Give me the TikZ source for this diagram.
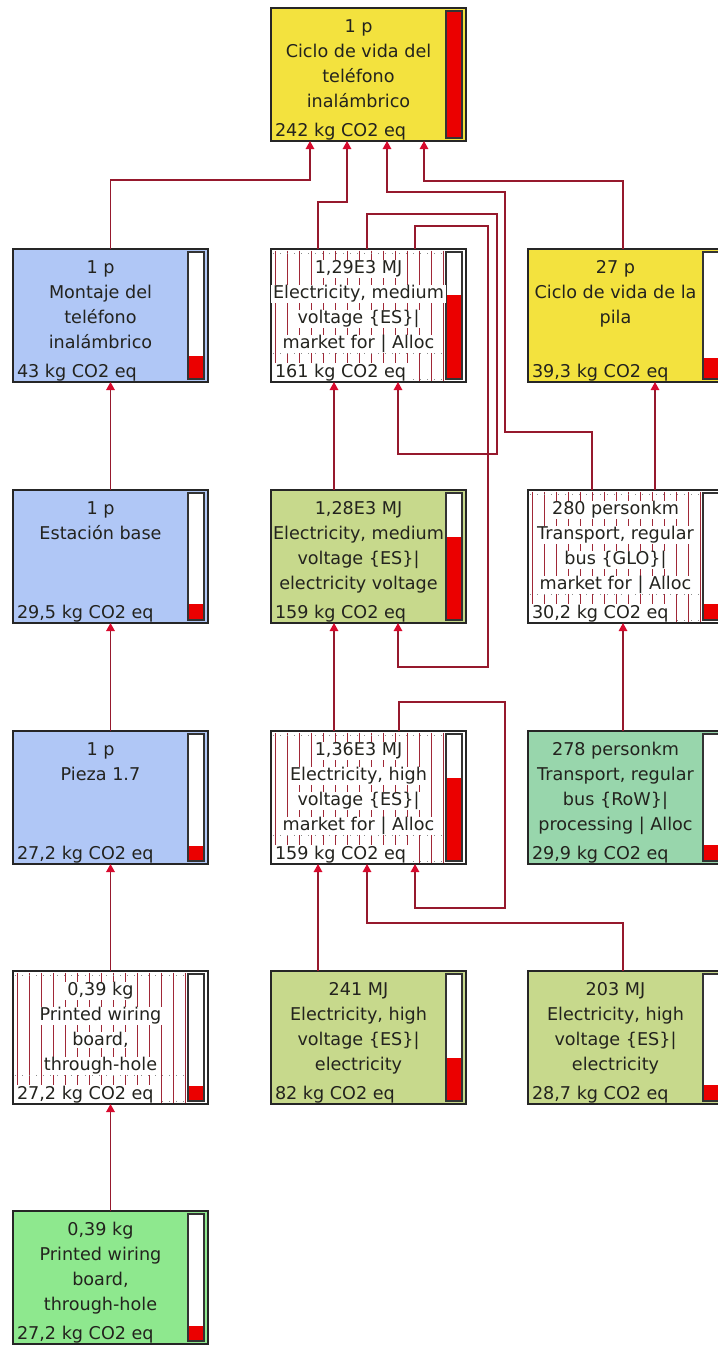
\documentclass[tikz,border=0pt]{standalone}
\usepackage{fontspec}
\setmainfont{DejaVu Sans}
\usetikzlibrary{calc,arrows.meta}
\definecolor{cyellow}{RGB}{243,226,62}
\definecolor{cblue}{RGB}{176,199,246}
\definecolor{colive}{RGB}{199,217,140}
\definecolor{cteal}{RGB}{152,214,172}
\definecolor{cgreen}{RGB}{142,232,142}
\definecolor{cline}{RGB}{150,25,45}
\definecolor{carrow}{RGB}{215,10,45}
\definecolor{chatch}{RGB}{160,40,55}
\definecolor{ctext}{RGB}{35,35,30}
\definecolor{cbar}{RGB}{235,0,0}
\tikzset{
 procbox/.style={draw=black!85, line width=1.3pt, minimum width=195pt, minimum height=133pt, inner sep=0pt, outer sep=0pt},
 txt/.style={font=\fontsize{17.6}{21}\selectfont, text=ctext, inner xsep=2pt, inner ysep=0.5pt, outer sep=0pt},
 htxt/.style={txt, fill=white},
 conn/.style={draw=cline, line width=1.3pt, -{Triangle[width=8.5pt,length=8pt,color=carrow]}},
 hatchline/.style={draw=chatch, line width=0.7pt},
 dotline/.style={draw=black!45, line width=1pt, dash pattern=on 1pt off 6pt},
 barframe/.style={draw=black!80, line width=1.2pt, fill=white},
}
\newcommand\pline[4]{\node[#3, anchor=base] (#1-#2) at ($(#1.north west)+(87.5,{-25*#2+0.5})$) {#4};}
\newcommand\pval[3]{\node[#2, anchor=base west] (#1-v) at ($(#1.south west)+(2,5)$) {#3};}
\newcommand\pbar[2]{%
 \draw[barframe] ($(#1.north east)+(-20,-3)$) rectangle ($(#1.south east)+(-4,3)$);
 \fill[cbar] ($(#1.south east)+(-19.4,3.6)$) rectangle ($(#1.south east)+(-4.6,{3.6+125.8*#2})$);}
\newcommand\phatch[1]{%
 \foreach \i in {0,...,14}{\draw[hatchline] ($(#1.north west)+({4+12*\i},-1.5)$) -- ($(#1.south west)+({4+12*\i},1.5)$);}
 \draw[dotline] ($(#1.north west)+(2,-4)$) -- ($(#1.north west)+(174,-4)$);
 \draw[dotline] ($(#1.south west)+(2,29)$) -- ($(#1.south west)+(174,29)$);
 \draw[dotline] ($(#1.south west)+(2,3)$) -- ($(#1.south west)+(174,3)$);}
\begin{document}
\begin{tikzpicture}[x=1pt,y=1pt]
\useasboundingbox (0,0) rectangle (718,-1345);
\clip (0,0) rectangle (718,-1345);
% boxes (y measured downward as negative)
\node[procbox, fill=cyellow] (T) at (368.5,-74.5) {};
\node[procbox, fill=cblue] (MO) at (110.5,-315.5) {};
\node[procbox, fill=white] (M1) at (368.5,-315.5) {};
\node[procbox, fill=cyellow] (PI) at (625.5,-315.5) {};
\node[procbox, fill=cblue] (EB) at (110.5,-556.5) {};
\node[procbox, fill=colive] (M2) at (368.5,-556.5) {};
\node[procbox, fill=white] (TR) at (625.5,-556.5) {};
\node[procbox, fill=cblue] (PZ) at (110.5,-797.5) {};
\node[procbox, fill=white] (H) at (368.5,-797.5) {};
\node[procbox, fill=cteal] (BUS) at (625.5,-797.5) {};
\node[procbox, fill=white] (PW1) at (110.5,-1037.5) {};
\node[procbox, fill=colive] (E241) at (368.5,-1037.5) {};
\node[procbox, fill=colive] (E203) at (625.5,-1037.5) {};
\node[procbox, fill=cgreen] (PW2) at (110.5,-1277.5) {};
% hatching
\phatch{M1}\phatch{TR}\phatch{H}\phatch{PW1}
% bars
\pbar{T}{1.0}\pbar{MO}{0.178}\pbar{M1}{0.665}\pbar{PI}{0.162}
\pbar{EB}{0.122}\pbar{M2}{0.657}\pbar{TR}{0.125}
\pbar{PZ}{0.112}\pbar{H}{0.657}\pbar{BUS}{0.124}
\pbar{PW1}{0.112}\pbar{E241}{0.339}\pbar{E203}{0.119}\pbar{PW2}{0.112}
% texts
\pline{T}{1}{txt}{1 p}\pline{T}{2}{txt}{Ciclo de vida del}\pline{T}{3}{txt}{teléfono}\pline{T}{4}{txt}{inalámbrico}\pval{T}{txt}{242 kg CO2 eq}
\pline{MO}{1}{txt}{1 p}\pline{MO}{2}{txt}{Montaje del}\pline{MO}{3}{txt}{teléfono}\pline{MO}{4}{txt}{inalámbrico}\pval{MO}{txt}{43 kg CO2 eq}
\pline{M1}{1}{htxt}{1,29E3 MJ}\pline{M1}{2}{htxt}{Electricity, medium}\pline{M1}{3}{htxt}{voltage \{ES\}|}\pline{M1}{4}{htxt}{market for | Alloc}\pval{M1}{htxt}{161 kg CO2 eq}
\pline{PI}{1}{txt}{27 p}\pline{PI}{2}{txt}{Ciclo de vida de la}\pline{PI}{3}{txt}{pila}\pval{PI}{txt}{39,3 kg CO2 eq}
\pline{EB}{1}{txt}{1 p}\pline{EB}{2}{txt}{Estación base}\pval{EB}{txt}{29,5 kg CO2 eq}
\pline{M2}{1}{txt}{1,28E3 MJ}\pline{M2}{2}{txt}{Electricity, medium}\pline{M2}{3}{txt}{voltage \{ES\}|}\pline{M2}{4}{txt}{electricity voltage}\pval{M2}{txt}{159 kg CO2 eq}
\pline{TR}{1}{htxt}{280 personkm}\pline{TR}{2}{htxt}{Transport, regular}\pline{TR}{3}{htxt}{bus \{GLO\}|}\pline{TR}{4}{htxt}{market for | Alloc}\pval{TR}{htxt}{30,2 kg CO2 eq}
\pline{PZ}{1}{txt}{1 p}\pline{PZ}{2}{txt}{Pieza 1.7}\pval{PZ}{txt}{27,2 kg CO2 eq}
\pline{H}{1}{htxt}{1,36E3 MJ}\pline{H}{2}{htxt}{Electricity, high}\pline{H}{3}{htxt}{voltage \{ES\}|}\pline{H}{4}{htxt}{market for | Alloc}\pval{H}{htxt}{159 kg CO2 eq}
\pline{BUS}{1}{txt}{278 personkm}\pline{BUS}{2}{txt}{Transport, regular}\pline{BUS}{3}{txt}{bus \{RoW\}|}\pline{BUS}{4}{txt}{processing | Alloc}\pval{BUS}{txt}{29,9 kg CO2 eq}
\pline{PW1}{1}{htxt}{0,39 kg}\pline{PW1}{2}{htxt}{Printed wiring}\pline{PW1}{3}{htxt}{board,}\pline{PW1}{4}{htxt}{through-hole}\pval{PW1}{htxt}{27,2 kg CO2 eq}
\pline{E241}{1}{txt}{241 MJ}\pline{E241}{2}{txt}{Electricity, high}\pline{E241}{3}{txt}{voltage \{ES\}|}\pline{E241}{4}{txt}{electricity}\pval{E241}{txt}{82 kg CO2 eq}
\pline{E203}{1}{txt}{203 MJ}\pline{E203}{2}{txt}{Electricity, high}\pline{E203}{3}{txt}{voltage \{ES\}|}\pline{E203}{4}{txt}{electricity}\pval{E203}{txt}{28,7 kg CO2 eq}
\pline{PW2}{1}{txt}{0,39 kg}\pline{PW2}{2}{txt}{Printed wiring}\pline{PW2}{3}{txt}{board,}\pline{PW2}{4}{txt}{through-hole}\pval{PW2}{txt}{27,2 kg CO2 eq}
% connectors
\draw[conn] (MO.north) |- ($(T.south west)+(39,-39)$) -- ($(T.south west)+(39,0)$);
\draw[conn] ($(M1.north west)+(47,0)$) |- ($(T.south west)+(76,-61)$) -- ($(T.south west)+(76,0)$);
\draw[conn] ($(TR.north west)+(64,0)$) -- ($(TR.north west)+(64,58)$) -| ($(T.south west)+(234,-51)$) -| ($(T.south west)+(116,0)$);
\draw[conn] ($(PI.north west)+(95,0)$) |- ($(T.south west)+(153,-40)$) -- ($(T.south west)+(153,0)$);
\draw[conn] ($(M1.north west)+(96,0)$) -- ($(M1.north west)+(96,35)$) -| ($(M1.south west)+(226,-72)$) -| ($(M1.south west)+(127,0)$);
\draw[conn] ($(M1.north west)+(144,0)$) -- ($(M1.north west)+(144,23)$) -| ($(M2.south west)+(217,-44)$) -| ($(M2.south west)+(127,0)$);
\draw[conn] ($(M2.north west)+(63,0)$) -- ($(M1.south west)+(63,0)$);
\draw[conn] (EB.north) -- (MO.south);
\draw[conn] ($(TR.north west)+(127,0)$) -- ($(PI.south west)+(127,0)$);
\draw[conn] ($(BUS.north west)+(95,0)$) -- ($(TR.south west)+(95,0)$);
\draw[conn] ($(H.north west)+(63,0)$) -- ($(M2.south west)+(63,0)$);
\draw[conn] ($(H.north west)+(128,0)$) -- ($(H.north west)+(128,29)$) -| ($(H.south west)+(234,-44)$) -| ($(H.south west)+(144,0)$);
\draw[conn] ($(E241.north west)+(47,0)$) -- ($(H.south west)+(47,0)$);
\draw[conn] ($(E203.north west)+(95,0)$) |- ($(H.south west)+(96,-59)$) -- ($(H.south west)+(96,0)$);
\draw[conn] (PZ.north) -- (EB.south);
\draw[conn] (PW1.north) -- (PZ.south);
\draw[conn] (PW2.north) -- (PW1.south);
\end{tikzpicture}
\end{document}
